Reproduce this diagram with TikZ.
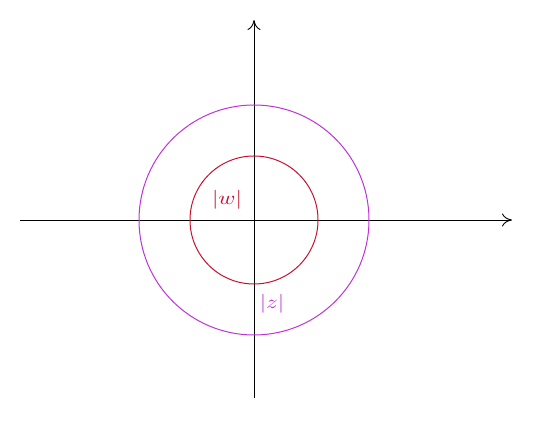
\documentclass[tikz,border=0pt]{standalone}
\usetikzlibrary{arrows.meta}
\newcommand{\biglab}[1]{\scalebox{2.3}[1.9]{$#1$}}
\begin{document}
\begin{tikzpicture}[x=1pt,y=1pt,
  axis/.style={line width=0.9pt,-{To[length=10pt,width=13pt]}},
  ring/.style={line width=1pt}]
\definecolor{cred}{RGB}{200,16,46}
\definecolor{cpurp}{RGB}{190,50,215}
\useasboundingbox (0,0) rectangle (546,422);
\coordinate (O) at (254,202);
\coordinate (xl) at (20,202);
\coordinate (xr) at (512,202);
\coordinate (yb) at (254,24);
\coordinate (yt) at (254,402);
\draw[axis] (xl) -- (xr);
\draw[axis] (yb) -- (yt);
\draw[ring,cpurp] (O) circle[radius=115];
\draw[ring,cred] (O) circle[radius=64];
\node[text=cred] (w) at (227,222) {\biglab{|w|}};
\node[text=cpurp] (z) at (272,118) {\biglab{|z|}};
\end{tikzpicture}
\end{document}
